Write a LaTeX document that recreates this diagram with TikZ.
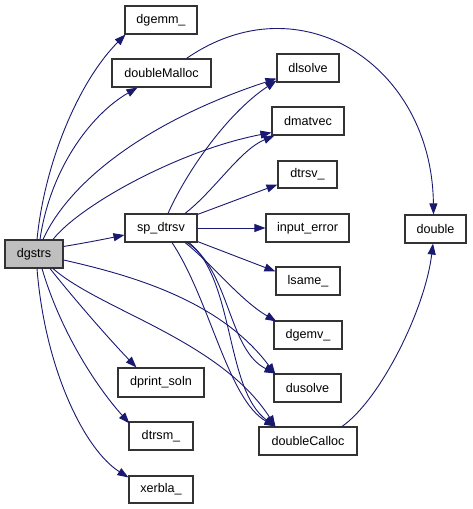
\documentclass[tikz,border=0pt]{standalone}
\usepackage{fontspec}
\setmainfont{Liberation Sans}
\usetikzlibrary{arrows.meta,calc}
\definecolor{edgeblue}{HTML}{191970}
\definecolor{boxline}{HTML}{333333}
\definecolor{rootfill}{HTML}{BFBFBF}
\begin{document}
\begin{tikzpicture}[x=1pt,y=-1pt,
  fn/.style={draw=boxline,line width=1.1pt,fill=white,inner sep=0pt,
    font=\fontsize{12.6}{15}\selectfont,minimum height=28pt},
  call/.style={draw=edgeblue,line width=0.9pt,
    -{Triangle[length=11pt,width=8pt]}}]
\useasboundingbox (0,0) rectangle (472,509);
% nodes
\node[fn,fill=rootfill,minimum width=58pt] (dgstrs) at (34,254) {dgstrs};
\node[fn,minimum width=72pt] (dgemm) at (161,20) {dgemm\_};
\node[fn,minimum width=99pt] (dmalloc) at (161.5,73) {doubleMalloc};
\node[fn,minimum width=72pt] (spd) at (161,228) {sp\_dtrsv};
\node[fn,minimum width=62pt] (dlsolve) at (308,68) {dlsolve};
\node[fn,minimum width=72pt] (dmatvec) at (308,121) {dmatvec};
\node[fn,minimum width=59pt,minimum height=27pt] (dtrsv) at (307.5,174.5) {dtrsv\_};
\node[fn,minimum width=83pt] (inerr) at (307.5,228) {input\_error};
\node[fn,minimum width=61pt] (double) at (435.5,229) {double};
\node[fn,minimum width=64pt] (lsame) at (308,281) {lsame\_};
\node[fn,minimum width=68pt] (dgemv) at (308,335) {dgemv\_};
\node[fn,minimum width=67pt] (dusolve) at (307.5,388) {dusolve};
\node[fn,minimum width=98pt] (dcalloc) at (308,441) {doubleCalloc};
\node[fn,minimum width=86pt,minimum height=29pt] (dprint) at (161,382.5) {dprint\_soln};
\node[fn,minimum width=64pt] (dtrsm) at (161,436) {dtrsm\_};
\node[fn,minimum width=64pt,minimum height=27pt] (xerbla) at (161,489.5) {xerbla\_};
% edges from dgstrs
\draw[call] ($(dgstrs.north)+(3,0)$) .. controls (45,160) and (80,80) .. ($(dgemm.south west)+(1,0)$);
\draw[call] ($(dgstrs.north)+(6,0)$) .. controls (50,170) and (90,115) .. ($(dmalloc.south)+(-24,0)$);
\draw[call] ($(dgstrs.north)+(9,0)$) .. controls (70,180) and (150,120) .. ($(dlsolve.south west)+(0,-4)$);
\draw[call] ($(dgstrs.north)+(19,0)$) .. controls (80,205) and (180,150) .. ($(dmatvec.south west)+(0,-3)$);
\draw[call] ($(dgstrs.north east)+(0,7)$) .. controls (85,243) and (105,239) .. ($(spd.west)+(0,7)$);
\draw[call] ($(dgstrs.east)+(0,6)$) .. controls (130,275) and (220,300) .. ($(dusolve.north west)+(2,1)$);
\draw[call] ($(dgstrs.south)+(19,0)$) .. controls (100,310) and (220,340) .. ($(dcalloc.north west)+(17,0)$);
\draw[call] ($(dgstrs.south)+(16,0)$) .. controls (75,300) and (110,340) .. ($(dprint.north west)+(19,0)$);
\draw[call] ($(dgstrs.south)+(8,0)$) .. controls (60,330) and (95,385) .. ($(dtrsm.north west)+(1,2)$);
\draw[call] ($(dgstrs.south)+(3,0)$) .. controls (45,370) and (85,450) .. ($(xerbla.north west)+(0,2)$);
% doubleMalloc / doubleCalloc -> double
\draw[call] ($(dmalloc.north)+(25,0)$) .. controls (300,-20) and (432,65) .. ($(double.north)+(-2,0)$);
\draw[call] ($(dcalloc.north)+(34,0)$) .. controls (380,400) and (425,310) .. ($(double.south)+(-2.5,0)$);
% edges from sp_dtrsv
\draw[call] ($(spd.north)+(7,0)$) .. controls (185,175) and (225,115) .. ($(dlsolve.south west)+(0,-2)$);
\draw[call] ($(spd.north)+(24,0)$) .. controls (215,190) and (240,150) .. ($(dmatvec.south west)+(3,0)$);
\draw[call] ($(spd.north east)+(0,1)$) -- ($(dtrsv.south west)+(0,-4)$);
\draw[call] (spd.east) -- (inerr.west);
\draw[call] ($(spd.south east)+(0,-1)$) -- ($(lsame.north west)+(0,5)$);
\draw[call] ($(spd.south)+(24,0)$) .. controls (210,262) and (240,300) .. ($(dgemv.north west)+(3,1)$);
\draw[call] ($(spd.south)+(26,0)$) .. controls (230,270) and (228,350) .. ($(dusolve.north west)+(2,0)$);
\draw[call] ($(spd.south)+(28,0)$) .. controls (235,280) and (225,390) .. ($(dcalloc.north west)+(17,0)$);
\draw[call] ($(spd.south)+(11,0)$) .. controls (210,300) and (228,400) .. ($(dcalloc.north west)+(17,0)$);
\end{tikzpicture}
\end{document}
